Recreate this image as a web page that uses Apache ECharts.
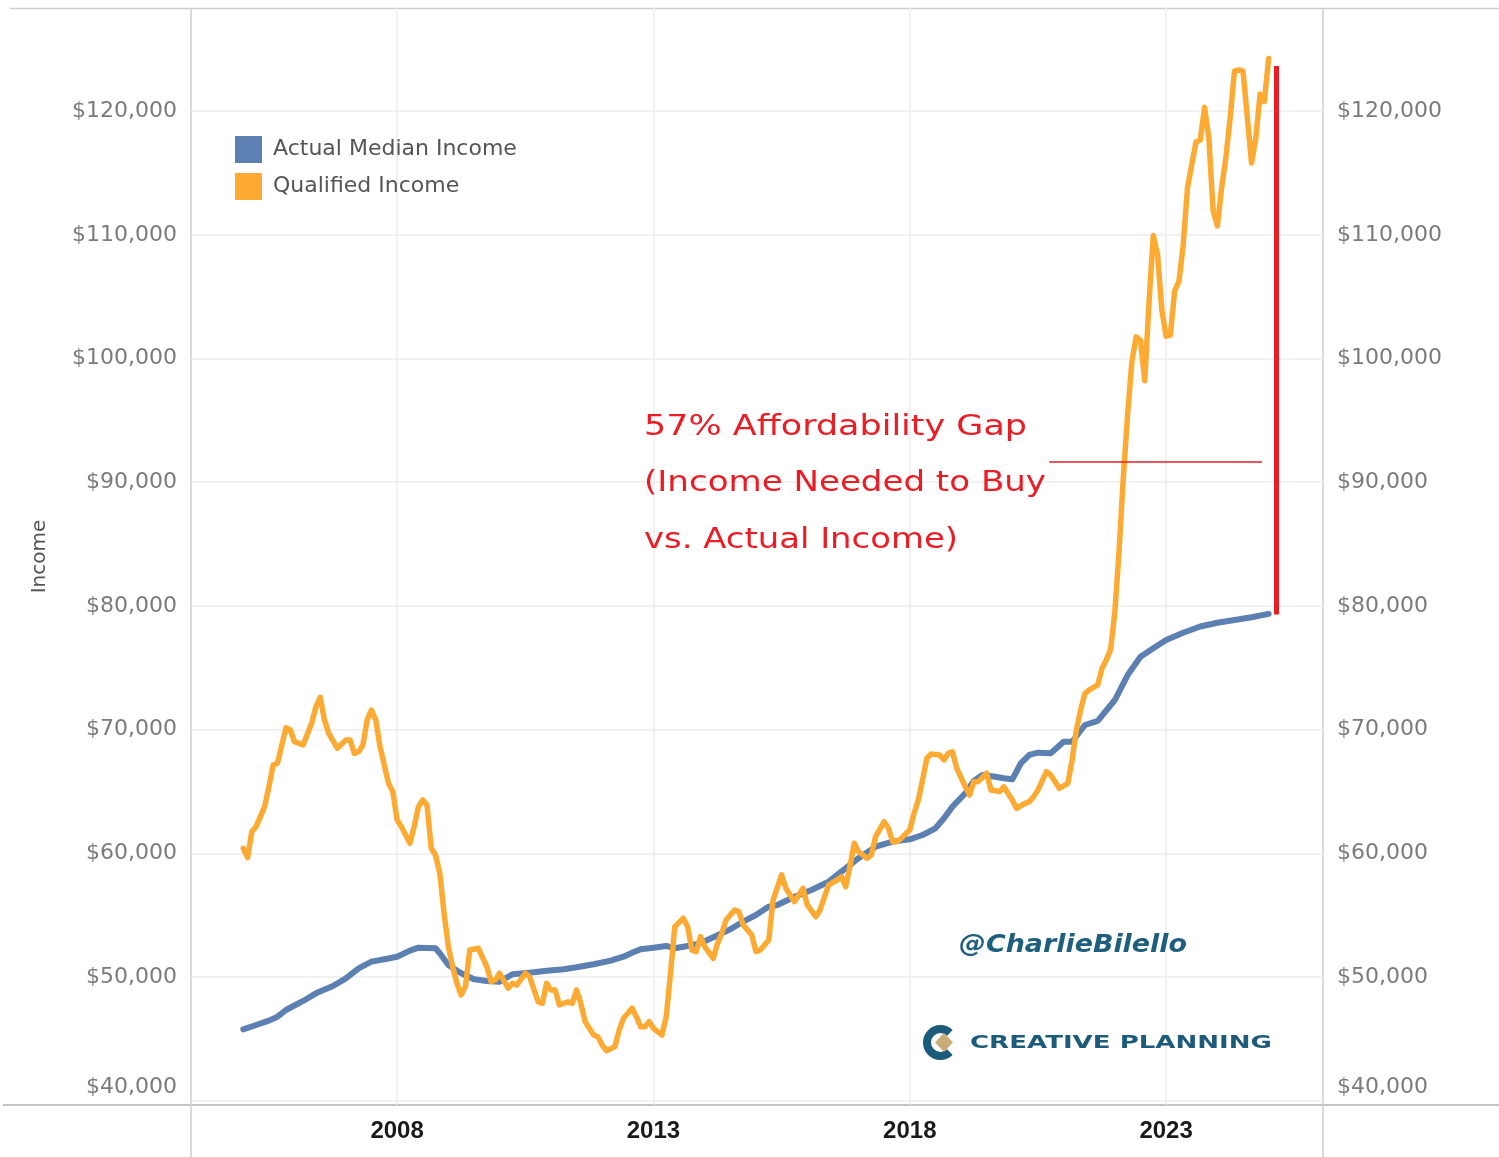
<!DOCTYPE html>
<html>
<head>
<meta charset="utf-8">
<script src="https://cdn.jsdelivr.net/npm/echarts@6/dist/echarts.min.js"></script>
<style>
  html, body { margin: 0; padding: 0; background: #ffffff; }
  #chart { width: 1499px; height: 1157px; }
</style>
</head>
<body>
<div id="chart"></div>
<script>
// ---------------- DATA ----------------
const medianDates = [
  '2005-01','2005-04','2005-07','2005-09','2005-11','2006-03','2006-06','2006-10','2007-01','2007-04',
  '2007-07','2007-10','2008-01','2008-04','2008-06','2008-10','2008-11','2009-01','2009-04','2009-07',
  '2009-10','2010-01','2010-04','2010-08','2010-12','2011-04','2011-07','2011-11','2012-03','2012-06',
  '2012-08','2012-10','2013-01','2013-04','2013-06','2013-09','2013-12','2014-03','2014-07','2014-10',
  '2015-01','2015-04','2015-06','2015-10','2016-02','2016-06','2016-09','2017-01','2017-05','2017-09',
  '2018-01','2018-04','2018-07','2018-09','2018-11','2019-02','2019-04','2019-06','2019-09','2019-11',
  '2020-01','2020-03','2020-05','2020-07','2020-10','2021-01','2021-03','2021-06','2021-09','2022-01',
  '2022-04','2022-07','2022-10','2023-01','2023-05','2023-09','2024-01','2024-05','2024-09','2025-01'
];
const medianIncome = [
  45770,46120,46470,46790,47330,48060,48680,49270,49890,50700,
  51240,51430,51640,52130,52370,52320,51920,50970,50300,49810,
  49680,49620,50220,50350,50510,50620,50780,51030,51320,51640,
  51960,52240,52370,52510,52320,52510,52720,53210,53860,54470,
  55010,55690,55820,56490,57030,57700,58510,59600,60530,60940,
  61130,61480,62020,62830,63770,64850,65840,66330,66190,66060,
  65980,67280,67950,68130,68080,69020,69020,70370,70700,72390,
  74410,75890,76570,77240,77830,78330,78640,78860,79080,79350
];

const qualifiedDates = [
  '2005-01','2005-02','2005-03','2005-04','2005-05','2005-06','2005-07','2005-08','2005-09','2005-11',
  '2005-12','2006-01','2006-03','2006-05','2006-06','2006-07','2006-08','2006-09','2006-11','2007-01',
  '2007-02','2007-03','2007-04','2007-05','2007-06','2007-07','2007-08','2007-09','2007-11','2007-12',
  '2008-01','2008-02','2008-04','2008-05','2008-06','2008-07','2008-08','2008-09','2008-10','2008-11',
  '2008-12','2009-01','2009-02','2009-03','2009-04','2009-05','2009-06','2009-08','2009-10','2009-11',
  '2009-12','2010-01','2010-03','2010-04','2010-05','2010-07','2010-08','2010-10','2010-11','2010-12',
  '2011-01','2011-02','2011-03','2011-05','2011-06','2011-07','2011-08','2011-09','2011-11','2011-12',
  '2012-01','2012-02','2012-04','2012-05','2012-06','2012-08','2012-09','2012-10','2012-11','2012-12',
  '2013-01','2013-03','2013-04','2013-05','2013-06','2013-08','2013-09','2013-10','2013-11','2013-12',
  '2014-01','2014-03','2014-04','2014-05','2014-06','2014-08','2014-09','2014-10','2014-12','2015-01',
  '2015-02','2015-04','2015-05','2015-07','2015-08','2015-10','2015-12','2016-01','2016-03','2016-04',
  '2016-06','2016-08','2016-09','2016-10','2016-11','2016-12','2017-01','2017-03','2017-04','2017-05',
  '2017-07','2017-08','2017-09','2017-10','2017-11','2018-01','2018-02','2018-03','2018-04','2018-05',
  '2018-06','2018-08','2018-09','2018-10','2018-11','2018-12','2019-02','2019-03','2019-04','2019-05',
  '2019-07','2019-08','2019-10','2019-11','2020-01','2020-02','2020-04','2020-05','2020-06','2020-07',
  '2020-09','2020-10','2020-11','2020-12','2021-02','2021-03','2021-04','2021-05','2021-06','2021-07',
  '2021-09','2021-10','2021-11','2021-12','2022-01','2022-02','2022-03','2022-04','2022-05','2022-06',
  '2022-07','2022-08','2022-09','2022-10','2022-11','2022-12','2023-01','2023-02','2023-03','2023-04',
  '2023-05','2023-06','2023-07','2023-08','2023-09','2023-10','2023-11','2023-12','2024-01','2024-02',
  '2024-03','2024-04','2024-05','2024-06','2024-07','2024-08','2024-09','2024-10','2024-11','2024-12',
  '2025-01'
];
const qualifiedIncome = [
  60400,59650,61750,62150,62960,63770,65380,67140,67280,70150,
  69970,69020,68760,70510,71850,72610,70780,69700,68490,69160,
  69160,68080,68210,68760,70780,71580,70780,68620,65660,64980,
  62690,62150,60810,62150,63770,64310,63900,60400,59860,58380,
  55150,52450,50830,49490,48540,49220,52180,52320,50830,49620,
  49760,50300,49090,49490,49350,50300,50030,48000,47870,49490,
  48950,48950,47740,48000,47870,48950,47870,46390,45310,45170,
  44500,44040,44370,45720,46660,47470,46790,45980,45980,46390,
  45850,45310,46790,50300,54070,54750,54070,52180,52050,53260,
  52450,51510,52720,53530,54610,55420,55280,54200,53400,52050,
  52180,52990,56220,58250,57170,56090,57170,55820,54870,55420,
  57440,57840,58110,57300,58920,60810,60130,59600,59860,61340,
  62550,62020,60940,60940,61210,61880,63230,64310,65930,67680,
  68030,67950,67540,68080,68210,66870,65380,64710,65790,65790,
  66470,65120,64980,65380,64310,63640,64040,64170,64580,65120,
  66600,66330,65790,65250,65660,67540,69970,71580,72930,73200,
  73610,74960,75630,76440,79500,84500,90500,95500,99800,101750,
  101450,98200,104530,109940,108400,103920,101800,101900,105460,106230,
  109170,113800,115660,117510,117670,120300,117830,111960,110720,113800,
  116270,119500,123230,123320,123230,119520,115810,117830,121380,120770,
  124260
];

const seriesNames = ['Actual Median Income', 'Qualified Income'];
const yearTickLabels = [2008, 2013, 2018, 2023];
const incomeTickLabels = [40000, 50000, 60000, 70000, 80000, 90000, 100000, 110000, 120000];

// annotation (data units)
const gapLineYear = 2025.15, gapLineTop = 123650, gapLineBottom = 79300;
const leaderFromYear = 2020.72, leaderToYear = 2024.87, leaderIncome = 91630;
const annotationLines = ['57% Affordability Gap', '(Income Needed to Buy', 'vs. Actual Income)'];
const handle = '@CharlieBilello';
const logoText = 'CREATIVE PLANNING';

// ---------------- helpers ----------------
function toYear(d) { const p = d.split('-').map(Number); return p[0] + (p[1] - 1) / 12; }
const medianData = medianDates.map((d, i) => [toYear(d), medianIncome[i]]);
const qualifiedData = qualifiedDates.map((d, i) => [toYear(d), qualifiedIncome[i]]);

const measureCtx = document.createElement('canvas').getContext('2d');
function fitScale(text, font, target) {
  measureCtx.font = font;
  return target / measureCtx.measureText(text).width;
}
function money(v) { return '$' + v.toLocaleString('en-US'); }

const AXIS_FONT = "'DejaVu Sans', Verdana, sans-serif";
const HAND_FONT = "'DejaVu Sans', sans-serif";
const RED = '#ec1c24';
const FRAME = '#cfcfcf';

const annFont = "28px " + HAND_FONT;
const annTargets = [383, 402, 314];
const annY = [428, 484, 541];
const handleFont = "italic bold 24px " + HAND_FONT;
const logoFont = "bold 18px " + AXIS_FONT;

const graphics = [
  // frame lines (Tableau pane borders)
  { type: 'line', shape: { x1: 10, y1: 8.5, x2: 1499, y2: 8.5 }, style: { stroke: FRAME, lineWidth: 1.5 } },
  { type: 'line', shape: { x1: 3, y1: 1105, x2: 1499, y2: 1105 }, style: { stroke: '#c4c4c4', lineWidth: 2 } },
  { type: 'line', shape: { x1: 191, y1: 8, x2: 191, y2: 1157 }, style: { stroke: FRAME, lineWidth: 1.5 } },
  { type: 'line', shape: { x1: 1323, y1: 8, x2: 1323, y2: 1157 }, style: { stroke: FRAME, lineWidth: 1.5 } }
];
annotationLines.forEach((t, i) => {
  graphics.push({
    type: 'text', x: 644, y: annY[i], z: 10,
    scaleX: fitScale(t, annFont, annTargets[i]),
    style: { text: t, fontSize: 28, fontFamily: HAND_FONT, fill: RED, verticalAlign: 'middle', align: 'left' }
  });
});
graphics.push({
  type: 'text', x: 959, y: 946, z: 10,
  scaleX: fitScale(handle, handleFont, 228),
  style: { text: handle, fontSize: 24, fontStyle: 'italic', fontWeight: 'bold', fontFamily: HAND_FONT, fill: '#1f5f7e', verticalAlign: 'middle', align: 'left' }
});
// Creative Planning logo
graphics.push({
  type: 'arc', z: 10,
  shape: { cx: 940.5, cy: 1042.5, r: 13.5, startAngle: 0.8, endAngle: Math.PI * 2 - 0.8, clockwise: true },
  style: { stroke: '#1d5b7b', lineWidth: 8, fill: null }
});
graphics.push({
  type: 'polygon', z: 11,
  shape: { points: [[935, 1042.5], [944, 1033], [953, 1042.5], [944, 1052]] },
  style: { fill: '#c9ab78' }
});
graphics.push({
  type: 'text', x: 970, y: 1043, z: 10,
  scaleX: fitScale(logoText, logoFont, 302),
  style: { text: logoText, fontSize: 18, fontWeight: 'bold', fontFamily: AXIS_FONT, fill: '#1d5b7b', verticalAlign: 'middle', align: 'left' }
});

const yLabelCommon = {
  customValues: incomeTickLabels,
  fontSize: 22,
  fontFamily: AXIS_FONT,
  color: '#7b7b7b',
  formatter: function (v) { return v === incomeTickLabels[0] ? '{low|' + money(v) + '}' : money(v); },
  rich: { low: { padding: [0, 0, 26, 0], fontSize: 22, fontFamily: AXIS_FONT, color: '#7b7b7b' } }
};

const option = {
  animation: false,
  backgroundColor: '#ffffff',
  grid: { left: 191, right: 176, top: 8, bottom: 52, containLabel: false },
  legend: {
    data: seriesNames,
    orient: 'vertical',
    left: 235, top: 136, padding: 0,
    icon: 'rect',
    itemWidth: 27, itemHeight: 27, itemGap: 10,
    textStyle: { fontSize: 22, fontFamily: AXIS_FONT, color: '#555555', padding: [0, 0, 0, 6] }
  },
  xAxis: {
    type: 'value',
    min: 2003.98, max: 2026.06,
    axisLine: { show: false },
    axisTick: { show: false, customValues: yearTickLabels },
    axisLabel: {
      customValues: yearTickLabels,
      formatter: function (v) { return String(Math.round(v)); },
      fontSize: 24, fontWeight: 'bold',
      fontFamily: "'Liberation Sans Narrow', 'Liberation Sans', Arial, sans-serif",
      color: '#1a1a1a', margin: 14
    },
    splitLine: { show: true, lineStyle: { color: '#ececec', width: 1.5 } }
  },
  yAxis: [
    {
      type: 'value', position: 'left',
      min: 39650, max: 128335,
      name: 'Income', nameLocation: 'middle', nameGap: 141, nameRotate: 90,
      nameTextStyle: { fontSize: 20, fontFamily: AXIS_FONT, color: '#555555' },
      axisLine: { show: false },
      axisTick: { show: false, customValues: incomeTickLabels },
      axisLabel: Object.assign({ margin: 14 }, yLabelCommon),
      splitLine: { show: true, lineStyle: { color: '#ececec', width: 1.5 } }
    },
    {
      type: 'value', position: 'right',
      min: 39650, max: 128335,
      axisLine: { show: false },
      axisTick: { show: false, customValues: incomeTickLabels },
      axisLabel: Object.assign({ margin: 14 }, yLabelCommon),
      splitLine: { show: false }
    }
  ],
  series: [
    {
      name: seriesNames[0], type: 'line', data: medianData,
      showSymbol: false, symbol: 'none', smooth: false,
      color: '#5b80b1',
      lineStyle: { color: '#5b80b1', width: 6, join: 'round', cap: 'round' },
      z: 3
    },
    {
      name: seriesNames[1], type: 'line', data: qualifiedData,
      showSymbol: false, symbol: 'none', smooth: false,
      color: '#fdaa33',
      lineStyle: { color: '#fdaa33', width: 5.5, join: 'round', cap: 'round' },
      z: 4,
      markLine: {
        silent: true, symbol: ['none', 'none'], label: { show: false },
        data: [
          [{ coord: [gapLineYear, gapLineTop], lineStyle: { color: RED, width: 5, type: 'solid' } },
           { coord: [gapLineYear, gapLineBottom] }],
          [{ coord: [leaderFromYear, leaderIncome], lineStyle: { color: RED, width: 1.5, type: 'solid' } },
           { coord: [leaderToYear, leaderIncome] }]
        ]
      }
    }
  ],
  graphic: graphics
};

const chart = echarts.init(document.getElementById('chart'), null, { renderer: 'canvas' });
chart.setOption(option);
</script>
</body>
</html>
